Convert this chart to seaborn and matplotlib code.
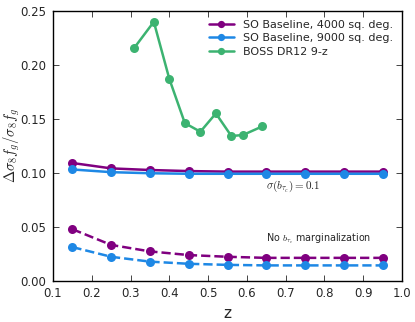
import numpy as np
import pandas as pd
import matplotlib
matplotlib.use("Agg")
import matplotlib.pyplot as plt
import seaborn as sns

# Data
z_so = [0.15, 0.25, 0.35, 0.45, 0.55, 0.65, 0.75, 0.85, 0.95]
so4000_marg = [0.109, 0.104, 0.1025, 0.1015, 0.101, 0.101, 0.101, 0.101, 0.101]
so9000_marg = [0.103, 0.1005, 0.0995, 0.099, 0.099, 0.099, 0.099, 0.099, 0.099]
so4000_nomarg = [0.0476, 0.033, 0.027, 0.0236, 0.022, 0.021, 0.021, 0.021, 0.021]
so9000_nomarg = [0.031, 0.022, 0.0175, 0.0155, 0.0145, 0.014, 0.014, 0.014, 0.014]

z_boss = [0.31, 0.36, 0.40, 0.44, 0.48, 0.52, 0.56, 0.59, 0.64]
boss = [0.216, 0.240, 0.187, 0.146, 0.138, 0.155, 0.134, 0.135, 0.143]

labels = ["SO Baseline, 4000 sq. deg.", "SO Baseline, 9000 sq. deg.", "BOSS DR12 9-z"]
colors = ["#800080", "#1e88e5", "#3cb371"]

sns.set_style("ticks")
plt.rcParams["font.family"] = ["DejaVu Sans"]
plt.rcParams["mathtext.fontset"] = "cm"
plt.rcParams["xtick.direction"] = "in"
plt.rcParams["ytick.direction"] = "in"

fig = plt.figure(figsize=(4.15, 3.22), dpi=100)
ax = fig.add_axes([53 / 415, 1 - 280.5 / 322, 349 / 415, 269.5 / 322])

kw = dict(marker="o", markersize=6.5, markeredgewidth=0, linewidth=1.8)
sns.lineplot(x=z_so, y=so4000_marg, color=colors[0], label=labels[0], ax=ax, **kw)
sns.lineplot(x=z_so, y=so9000_marg, color=colors[1], label=labels[1], ax=ax, **kw)
sns.lineplot(x=z_boss, y=boss, color=colors[2], label=labels[2], ax=ax, sort=False, **kw)
sns.lineplot(x=z_so, y=so4000_nomarg, color=colors[0], ax=ax, linestyle="--", **kw)
sns.lineplot(x=z_so, y=so9000_nomarg, color=colors[1], ax=ax, linestyle="--", **kw)

ax.set_xlim(0.1, 1.0)
ax.set_ylim(0.0, 0.25)
ax.set_xticks(np.arange(0.1, 1.01, 0.1))
ax.set_yticks(np.arange(0.0, 0.251, 0.05))
ax.xaxis.set_major_formatter(matplotlib.ticker.FormatStrFormatter("%.1f"))
ax.yaxis.set_major_formatter(matplotlib.ticker.FormatStrFormatter("%.2f"))
ax.tick_params(top=True, right=True, labelsize=8.5, length=4, width=0.6, pad=5)
for s in ax.spines.values():
    s.set_linewidth(1.0)
    s.set_color("black")

ax.set_xlabel("z", fontsize=11)
ax.set_ylabel(r"$\Delta\sigma_8 f_g/\sigma_8 f_g$", fontsize=10.5)
ax.yaxis.set_label_coords(-0.088, 0.5)

ax.text(0.65, 0.0875, r"$\sigma(b_{\tau_c}) = 0.1$", fontsize=8, va="center")
ax.text(0.65, 0.0385, r"No $b_{\tau_c}$ marginalization", fontsize=6.9, va="center")

ax.legend(loc="upper right", frameon=False, fontsize=8, handlelength=2.3,
          borderaxespad=0.4, labelspacing=0.3, markerscale=0.8)

fig.savefig("out.png", dpi=100)
